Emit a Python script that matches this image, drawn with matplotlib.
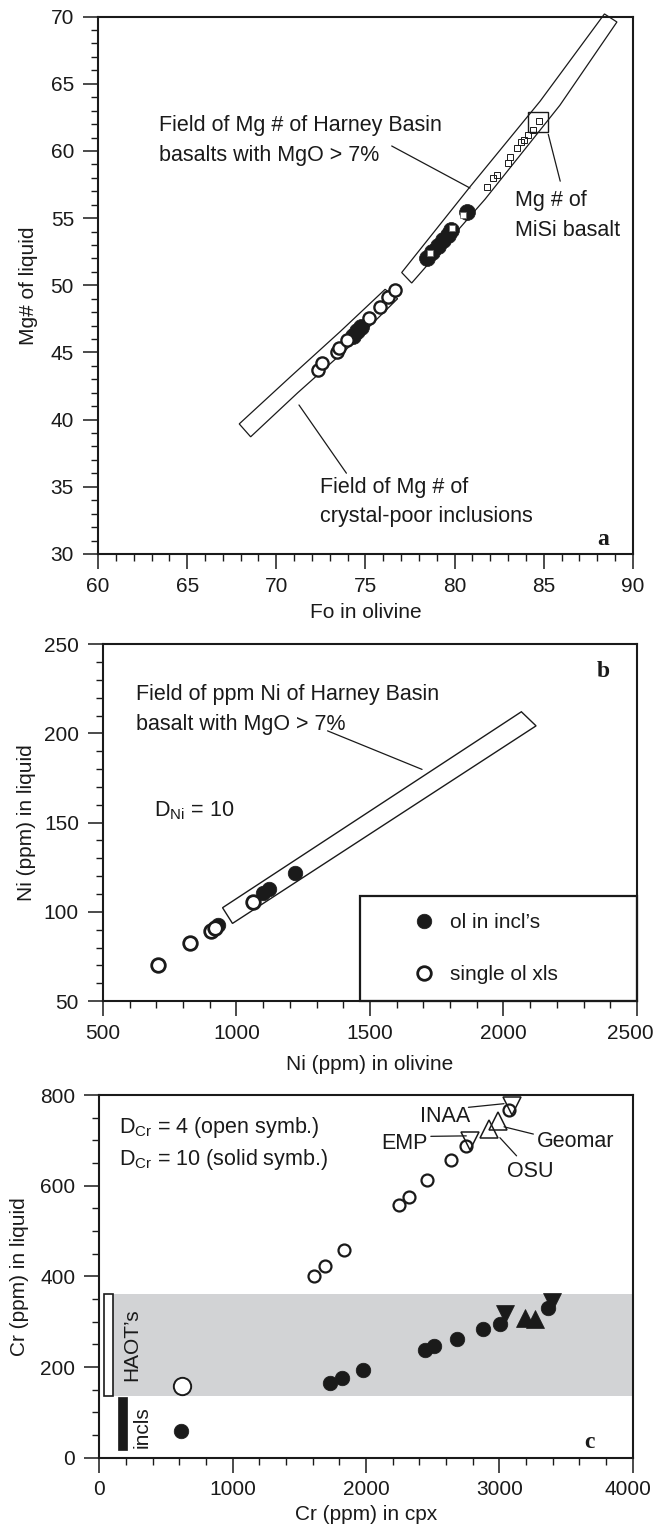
import matplotlib
matplotlib.use("Agg")
import matplotlib.pyplot as plt
from matplotlib.ticker import MultipleLocator
from matplotlib.transforms import ScaledTranslation

plt.rcParams['font.family'] = ['Liberation Sans', 'DejaVu Sans']
plt.rcParams['mathtext.fontset'] = 'custom'
plt.rcParams['mathtext.rm'] = 'Liberation Sans'
plt.rcParams['mathtext.it'] = 'Liberation Sans:italic'
plt.rcParams['mathtext.bf'] = 'Liberation Sans:bold'

INK = '#1a1a1a'
FS = 15

# ---------------- panel a data ----------------
a_open_fo = [72.34, 72.57, 73.39, 73.51, 73.98, 75.20, 75.82, 76.28, 76.66]
a_open_mg = [43.70, 44.20, 45.06, 45.32, 45.93, 47.60, 48.41, 49.16, 49.66]
a_fill_fo = [74.30, 74.55, 74.75, 78.45, 78.75, 79.05, 79.35, 79.60, 79.80, 80.68]
a_fill_mg = [46.20, 46.60, 46.90, 52.00, 52.45, 52.90, 53.35, 53.75, 54.10, 55.49]
a_wsq_fo = [78.62, 79.85, 80.45]
a_wsq_mg = [52.39, 54.30, 55.24]
a_sq_fo = [76.46, 81.80, 82.17, 82.36, 82.98, 83.11, 83.52, 83.72, 83.91, 84.13, 84.38, 84.72]
a_sq_mg = [49.35, 57.30, 57.97, 58.22, 59.09, 59.54, 60.21, 60.66, 60.83, 61.20, 61.57, 62.26]
misi_fo = [84.65]
misi_mg = [62.13]
# fields (outlines)
field_hb_fo = [77.03, 80.86, 84.79, 88.40, 89.10, 85.90, 81.70, 77.59]
field_hb_mg = [50.95, 57.33, 63.70, 70.20, 69.60, 63.40, 56.40, 50.17]
field_ci_fo = [67.92, 70.80, 73.57, 76.10, 76.80, 73.90, 71.20, 68.56]
field_ci_mg = [39.68, 43.20, 46.54, 49.70, 49.00, 45.20, 42.00, 38.72]

# ---------------- panel b data ----------------
b_open_ni_ol = [707, 825, 905, 918, 1063]
b_open_ni_liq = [70.3, 82.3, 89.5, 90.7, 105.6]
b_fill_ni_ol = [930, 1098, 1123, 1220]
b_fill_ni_liq = [92.6, 110.3, 112.6, 121.9]
field_ni_ol = [947.8, 2067, 2122, 985]
field_ni_liq = [102.3, 212.1, 204.2, 93.5]

# ---------------- panel c data ----------------
c_open_cpx = [621, 1609, 1697, 1835, 2252, 2324, 2462, 2638, 2754, 3074]
c_open_liq = [159, 400, 422, 458, 558, 576, 612, 656, 688, 766]
c_open_big = [True, False, False, False, False, False, False, False, False, False]
c_fill_cpx = [612, 1730, 1820, 1980, 2442, 2512, 2683, 2878, 3008, 3367]
c_fill_liq = [60, 166, 177, 193, 238, 246, 263, 283, 294, 330]
c_open_dn_cpx = [2779, 3099]
c_open_dn_liq = [699, 776]
c_open_up_cpx = [2927, 2990]
c_open_up_liq = [726, 742]
c_fill_dn_cpx = [3040, 3392]
c_fill_dn_liq = [318, 343]
c_fill_up_cpx = [3195, 3268]
c_fill_up_liq = [309, 306]
haot_range = [136, 362]
incl_range = [18, 134]

fig = plt.figure(figsize=(6.56, 15.26), dpi=100)
ax_a = fig.add_axes([0.1494, 0.6370, 0.8155, 0.3521])
ax_b = fig.add_axes([0.1570, 0.3440, 0.8140, 0.2339])
ax_c = fig.add_axes([0.1512, 0.04469, 0.8131, 0.2377])


def style(ax, xlim, ylim, xmaj, xmin, ymaj, ymin):
    ax.set_xlim(*xlim)
    ax.set_ylim(*ylim)
    ax.xaxis.set_major_locator(MultipleLocator(xmaj))
    ax.xaxis.set_minor_locator(MultipleLocator(xmin))
    ax.yaxis.set_major_locator(MultipleLocator(ymaj))
    ax.yaxis.set_minor_locator(MultipleLocator(ymin))
    ax.tick_params(which='major', direction='out', length=10.8, width=1.1,
                   labelsize=FS, colors=INK, top=False, right=False)
    ax.tick_params(axis='y', which='major', pad=6.5)
    ax.tick_params(axis='x', which='major', pad=5.5)
    ax.tick_params(which='minor', direction='out', length=5, width=1.0,
                   colors=INK, top=False, right=False)
    for sp in ax.spines.values():
        sp.set_linewidth(1.5)
        sp.set_color(INK)


def nudge_xlabel(ax, text, dx_px):
    for lab in ax.get_xticklabels():
        if lab.get_text() == text:
            lab.set_transform(lab.get_transform() +
                              ScaledTranslation(dx_px / fig.dpi, 0,
                                                fig.dpi_scale_trans))


def pointer(ax, p0, p1):
    ax.annotate('', xy=p1, xytext=p0,
                arrowprops=dict(arrowstyle='-', color=INK, lw=0.9,
                                shrinkA=0, shrinkB=0))


# ================= panel a =================
style(ax_a, (60, 90), (30, 70), 5, 1, 5, 1)
ax_a.fill(field_hb_fo, field_hb_mg, facecolor='none', edgecolor=INK, lw=0.9,
          clip_on=False, zorder=1)
ax_a.fill(field_ci_fo, field_ci_mg, facecolor='none', edgecolor=INK, lw=0.9,
          clip_on=False, zorder=1)
ax_a.plot(a_sq_fo, a_sq_mg, ls='none', marker='s', ms=4.6, mfc='none',
          mec=INK, mew=0.7, zorder=3)
ax_a.plot(misi_fo, misi_mg, ls='none', marker='s', ms=15, mfc='none',
          mec=INK, mew=1.0, zorder=3)
ax_a.plot(a_fill_fo, a_fill_mg, ls='none', marker='o', ms=11.5, mfc=INK,
          mec=INK, mew=0.5, zorder=4)
ax_a.plot(a_open_fo, a_open_mg, ls='none', marker='o', ms=8.8, mfc='white',
          mec=INK, mew=1.7, zorder=5)
ax_a.plot(a_wsq_fo, a_wsq_mg, ls='none', marker='s', ms=4.5, mfc='white',
          mec='#666666', mew=0.5, zorder=6)

ax_a.text(63.42, 62.69, 'Field of Mg # of Harney Basin\nbasalts with MgO > 7%',
          fontsize=15.5, color=INK, ha='left', va='top', linespacing=1.55)
pointer(ax_a, (76.47, 60.37), (80.86, 57.24))
ax_a.text(83.37, 57.1, 'Mg # of\nMiSi basalt', fontsize=15.5, color=INK,
          ha='left', va='top', linespacing=1.55)
pointer(ax_a, (85.25, 61.24), (85.92, 57.75))
ax_a.text(72.45, 35.76, 'Field of Mg # of\ncrystal-poor inclusions',
          fontsize=15.5, color=INK, ha='left', va='top', linespacing=1.55)
pointer(ax_a, (71.27, 41.09), (73.93, 36.01))
ax_a.text(0.944, 0.0168, 'a', transform=ax_a.transAxes, fontsize=17,
          fontweight='bold', family='Liberation Serif', color=INK,
          ha='center', va='baseline')
ax_a.set_xlabel('Fo in olivine', fontsize=FS, color=INK)
ax_a.set_ylabel('Mg# of liquid', fontsize=FS, color=INK)
ax_a.xaxis.set_label_coords(0.5, -0.091)
ax_a.yaxis.set_label_coords(-0.113, 0.5)

# ================= panel b =================
style(ax_b, (500, 2500), (50, 250), 500, 100, 50, 10)
ax_b.fill(field_ni_ol, field_ni_liq, facecolor='none', edgecolor=INK, lw=1.0,
          zorder=1)
h_fill, = ax_b.plot(b_fill_ni_ol, b_fill_ni_liq, ls='none', marker='o',
                    ms=10.5, mfc=INK, mec=INK, mew=0.5, zorder=3,
                    label='ol in incl\u2019s')
h_open, = ax_b.plot(b_open_ni_ol, b_open_ni_liq, ls='none', marker='o',
                    ms=9.8, mfc='white', mec=INK, mew=2.0, zorder=4,
                    label='single ol xls')
ax_b.text(623, 227.6, 'Field of ppm Ni of Harney Basin\nbasalt with MgO > 7%',
          fontsize=15.5, color=INK, ha='left', va='top', linespacing=1.55)
pointer(ax_b, (1341, 201.4), (1695, 179.8))
ax_b.text(690, 153.2, r'D$_{\mathrm{Ni}}$ = 10', fontsize=15.5, color=INK,
          ha='left', va='baseline')
ax_b.add_patch(plt.Rectangle((0.4808, 0.0), 0.5192, 0.295,
                             transform=ax_b.transAxes, fill=False,
                             edgecolor=INK, lw=1.6, zorder=6, clip_on=False))
ax_b.legend(handles=[h_fill, h_open], loc='center left',
            bbox_to_anchor=(0.5808, 0.147), frameon=False, borderpad=0,
            borderaxespad=0, handlelength=1.0, handletextpad=0.76,
            labelspacing=1.56, fontsize=FS, labelcolor=INK)
ax_b.text(0.936, 0.908, 'b', transform=ax_b.transAxes, fontsize=17,
          fontweight='bold', family='Liberation Serif', color=INK,
          ha='center', va='baseline')
ax_b.set_xlabel('Ni (ppm) in olivine', fontsize=FS, color=INK)
ax_b.set_ylabel('Ni (ppm) in liquid', fontsize=FS, color=INK)
ax_b.xaxis.set_label_coords(0.5, -0.151)
ax_b.yaxis.set_label_coords(-0.126, 0.5)
nudge_xlabel(ax_b, '2500', -7)

# ================= panel c =================
style(ax_c, (0, 4000), (0, 800), 1000, 200, 200, 50)
ax_c.axhspan(haot_range[0], haot_range[1], xmin=0.026, xmax=1.0,
             color='#d2d3d5', lw=0, zorder=0)
ax_c.bar(69, haot_range[1] - haot_range[0], bottom=haot_range[0], width=64,
         color='white', edgecolor=INK, lw=1.2, zorder=2)
ax_c.bar(178, incl_range[1] - incl_range[0], bottom=incl_range[0], width=68,
         color=INK, edgecolor=INK, lw=0.5, zorder=2)
ax_c.text(244, sum(haot_range) / 2, 'HAOT\u2019s', rotation=90, fontsize=FS,
          color=INK, ha='center', va='center')
ax_c.text(323, 68, 'incls', rotation=90, fontsize=FS, color=INK,
          ha='center', va='center')

small_cpx = [x for x, b in zip(c_open_cpx, c_open_big) if not b]
small_liq = [y for y, b in zip(c_open_liq, c_open_big) if not b]
big_cpx = [x for x, b in zip(c_open_cpx, c_open_big) if b]
big_liq = [y for y, b in zip(c_open_liq, c_open_big) if b]
ax_c.plot(small_cpx, small_liq, ls='none', marker='o', ms=8.6, mfc='white',
          mec=INK, mew=1.6, zorder=3)
ax_c.plot(big_cpx, big_liq, ls='none', marker='o', ms=12.5, mfc='white',
          mec=INK, mew=1.4, zorder=3)
ax_c.plot(c_fill_cpx, c_fill_liq, ls='none', marker='o', ms=10.5, mfc=INK,
          mec=INK, mew=0.5, zorder=3)
ax_c.plot(c_open_dn_cpx, c_open_dn_liq, ls='none', marker='v', ms=12.5,
          mfc='none', mec=INK, mew=1.1, zorder=4, clip_on=False)
ax_c.plot(c_open_up_cpx, c_open_up_liq, ls='none', marker='^', ms=12.5,
          mfc='none', mec=INK, mew=1.1, zorder=4)
ax_c.plot(c_fill_dn_cpx, c_fill_dn_liq, ls='none', marker='v', ms=13.5,
          mfc=INK, mec=INK, mew=0.5, zorder=4)
ax_c.plot(c_fill_up_cpx, c_fill_up_liq, ls='none', marker='^', ms=13.5,
          mfc=INK, mec=INK, mew=0.5, zorder=4)

ax_c.text(150, 717, r'D$_{\mathrm{Cr}}$ = 4 (open symb.)', fontsize=15.5,
          color=INK, ha='left', va='baseline')
ax_c.text(150, 645, r'D$_{\mathrm{Cr}}$ = 10 (solid symb.)', fontsize=15.5,
          color=INK, ha='left', va='baseline')
ax_c.text(2409, 741, 'INAA', fontsize=15.5, color=INK, ha='left', va='baseline')
pointer(ax_c, (2769, 773), (3036, 781))
ax_c.text(2117, 681, 'EMP', fontsize=15.5, color=INK, ha='left', va='baseline')
pointer(ax_c, (2487, 709), (2753, 710))
ax_c.text(3280, 685, 'Geomar', fontsize=15.5, color=INK, ha='left',
          va='baseline')
pointer(ax_c, (3256, 714), (3036, 730))
ax_c.text(3061, 619, 'OSU', fontsize=15.5, color=INK, ha='left', va='baseline')
pointer(ax_c, (3130, 666), (3005, 706))
ax_c.text(0.920, 0.027, 'c', transform=ax_c.transAxes, fontsize=17,
          fontweight='bold', family='Liberation Serif', color=INK,
          ha='center', va='baseline')
ax_c.set_xlabel('Cr (ppm) in cpx', fontsize=FS, color=INK)
ax_c.set_ylabel('Cr (ppm) in liquid', fontsize=FS, color=INK)
ax_c.xaxis.set_label_coords(0.5, -0.130)
ax_c.yaxis.set_label_coords(-0.131, 0.5)
nudge_xlabel(ax_c, '4000', -5)

fig.savefig('out.png', dpi=100)
